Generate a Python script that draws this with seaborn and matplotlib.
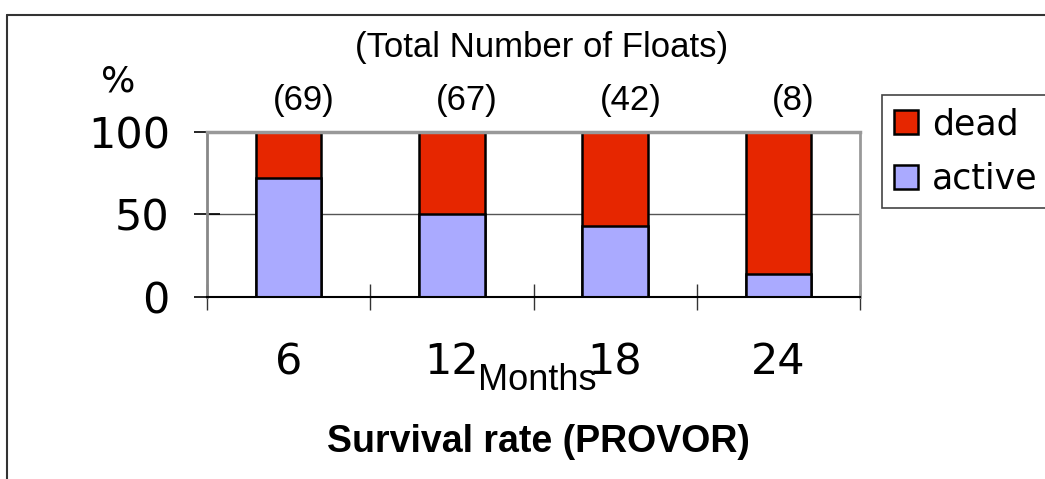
import pandas as pd
import numpy as np
import matplotlib.pyplot as plt
import seaborn as sns
from matplotlib.lines import Line2D

# Données
months = ['6', '12', '18', '24']
active = [72, 50, 43, 14]
dead = [28, 50, 57, 86]
n_floats = [69, 67, 42, 8]
y_ticks = [0, 50, 100]

RED = '#E62600'
BLUE = '#AAAAFF'
ARIAL = ['Liberation Sans', 'DejaVu Sans']
LUCIDA = ['DejaVu Sans']

sns.set_style('white')
plt.rcParams['font.family'] = ['DejaVu Sans']
plt.rcParams['text.color'] = 'black'
plt.rcParams['axes.labelcolor'] = 'black'
plt.rcParams['xtick.color'] = 'black'
plt.rcParams['ytick.color'] = 'black'

df = pd.DataFrame({'month': months, 'active': active, 'dead': dead})
df['total'] = df['active'] + df['dead']

fig = plt.figure(figsize=(10.45, 4.79), dpi=100)
W, H = 1045, 479
ax = fig.add_axes([207 / W, 1 - 296.7 / H, 653 / W, 164.4 / H])

# barres empilées : total (dead) derrière, active devant
sns.barplot(data=df, x='month', y='total', color=RED, saturation=1, width=0.4,
            edgecolor='black', linewidth=1.8, errorbar=None, label='dead', ax=ax)
sns.barplot(data=df, x='month', y='active', color=BLUE, saturation=1, width=0.4,
            edgecolor='black', linewidth=1.8, errorbar=None, label='active', ax=ax)

ax.set_xlim(-0.5, len(months) - 0.5)
ax.set_ylim(0, 100)
ax.set_axisbelow(True)
ax.yaxis.grid(True, color='#555555', lw=1)
ax.xaxis.grid(False)

# axes
for side, col, lw in [('left', '#888888', 2), ('top', '#999999', 2.5),
                      ('right', '#999999', 2), ('bottom', 'black', 1.5)]:
    ax.spines[side].set_visible(True)
    ax.spines[side].set_color(col)
    ax.spines[side].set_linewidth(lw)

ax.set_yticks(y_ticks)
ax.set_yticklabels([str(v) for v in y_ticks], fontsize=31, family=LUCIDA)
ax.tick_params(axis='y', direction='inout', length=19.4, width=1.2,
               color='black', pad=17, left=True)

ax.set_xticks(range(len(months)))
ax.set_xticklabels(months, fontsize=31, family=LUCIDA)
ax.set_xticks(np.arange(-0.5, len(months), 1), minor=True)
ax.tick_params(axis='x', which='major', length=0, pad=32)
ax.tick_params(axis='x', which='minor', direction='inout', length=19,
               width=1, color='#333333', bottom=True)

ax.set_ylabel('')
ax.set_xlabel('Months', fontsize=26, family=ARIAL)
ax.xaxis.label.set_va('center')
ax.xaxis.set_label_coords((537 - 207) / 653, (296.7 - 380) / 164.4)

# nombre de flotteurs au-dessus des barres
for i, n in enumerate(n_floats):
    ax.annotate(f'({n})', xy=(i, 100), xytext=(11, 23),
                textcoords='offset points', ha='center', va='center',
                fontsize=25, family=ARIAL)

fig.text(542 / W, 1 - 47 / H, '(Total Number of Floats)', ha='center',
         va='center', fontsize=25, family=ARIAL)
fig.text(118 / W, 1 - 82 / H, '%', ha='center', va='center', fontsize=26,
         family=LUCIDA)
fig.text(538 / W, 1 - 442 / H, 'Survival rate (PROVOR)', ha='center',
         va='center', fontsize=27, fontweight='bold', family=ARIAL)

leg = ax.legend(loc='upper left', bbox_to_anchor=(882 / W, 1 - 95 / H),
                bbox_transform=fig.transFigure, borderaxespad=0,
                prop={'family': LUCIDA, 'size': 25}, handlelength=0.7,
                handleheight=0.7, handletextpad=0.4, borderpad=0.35,
                labelspacing=0.6, fancybox=False, framealpha=1)
leg.get_frame().set_edgecolor('#444444')
leg.get_frame().set_linewidth(1.2)

# cadre extérieur
fig.add_artist(Line2D([7 / W, 7 / W], [0, 1 - 15 / H], transform=fig.transFigure,
                      color='#333333', lw=1.5))
fig.add_artist(Line2D([7 / W, 1], [1 - 15 / H, 1 - 15 / H],
                      transform=fig.transFigure, color='#333333', lw=1.5))

fig.savefig('out.png', dpi=100)
